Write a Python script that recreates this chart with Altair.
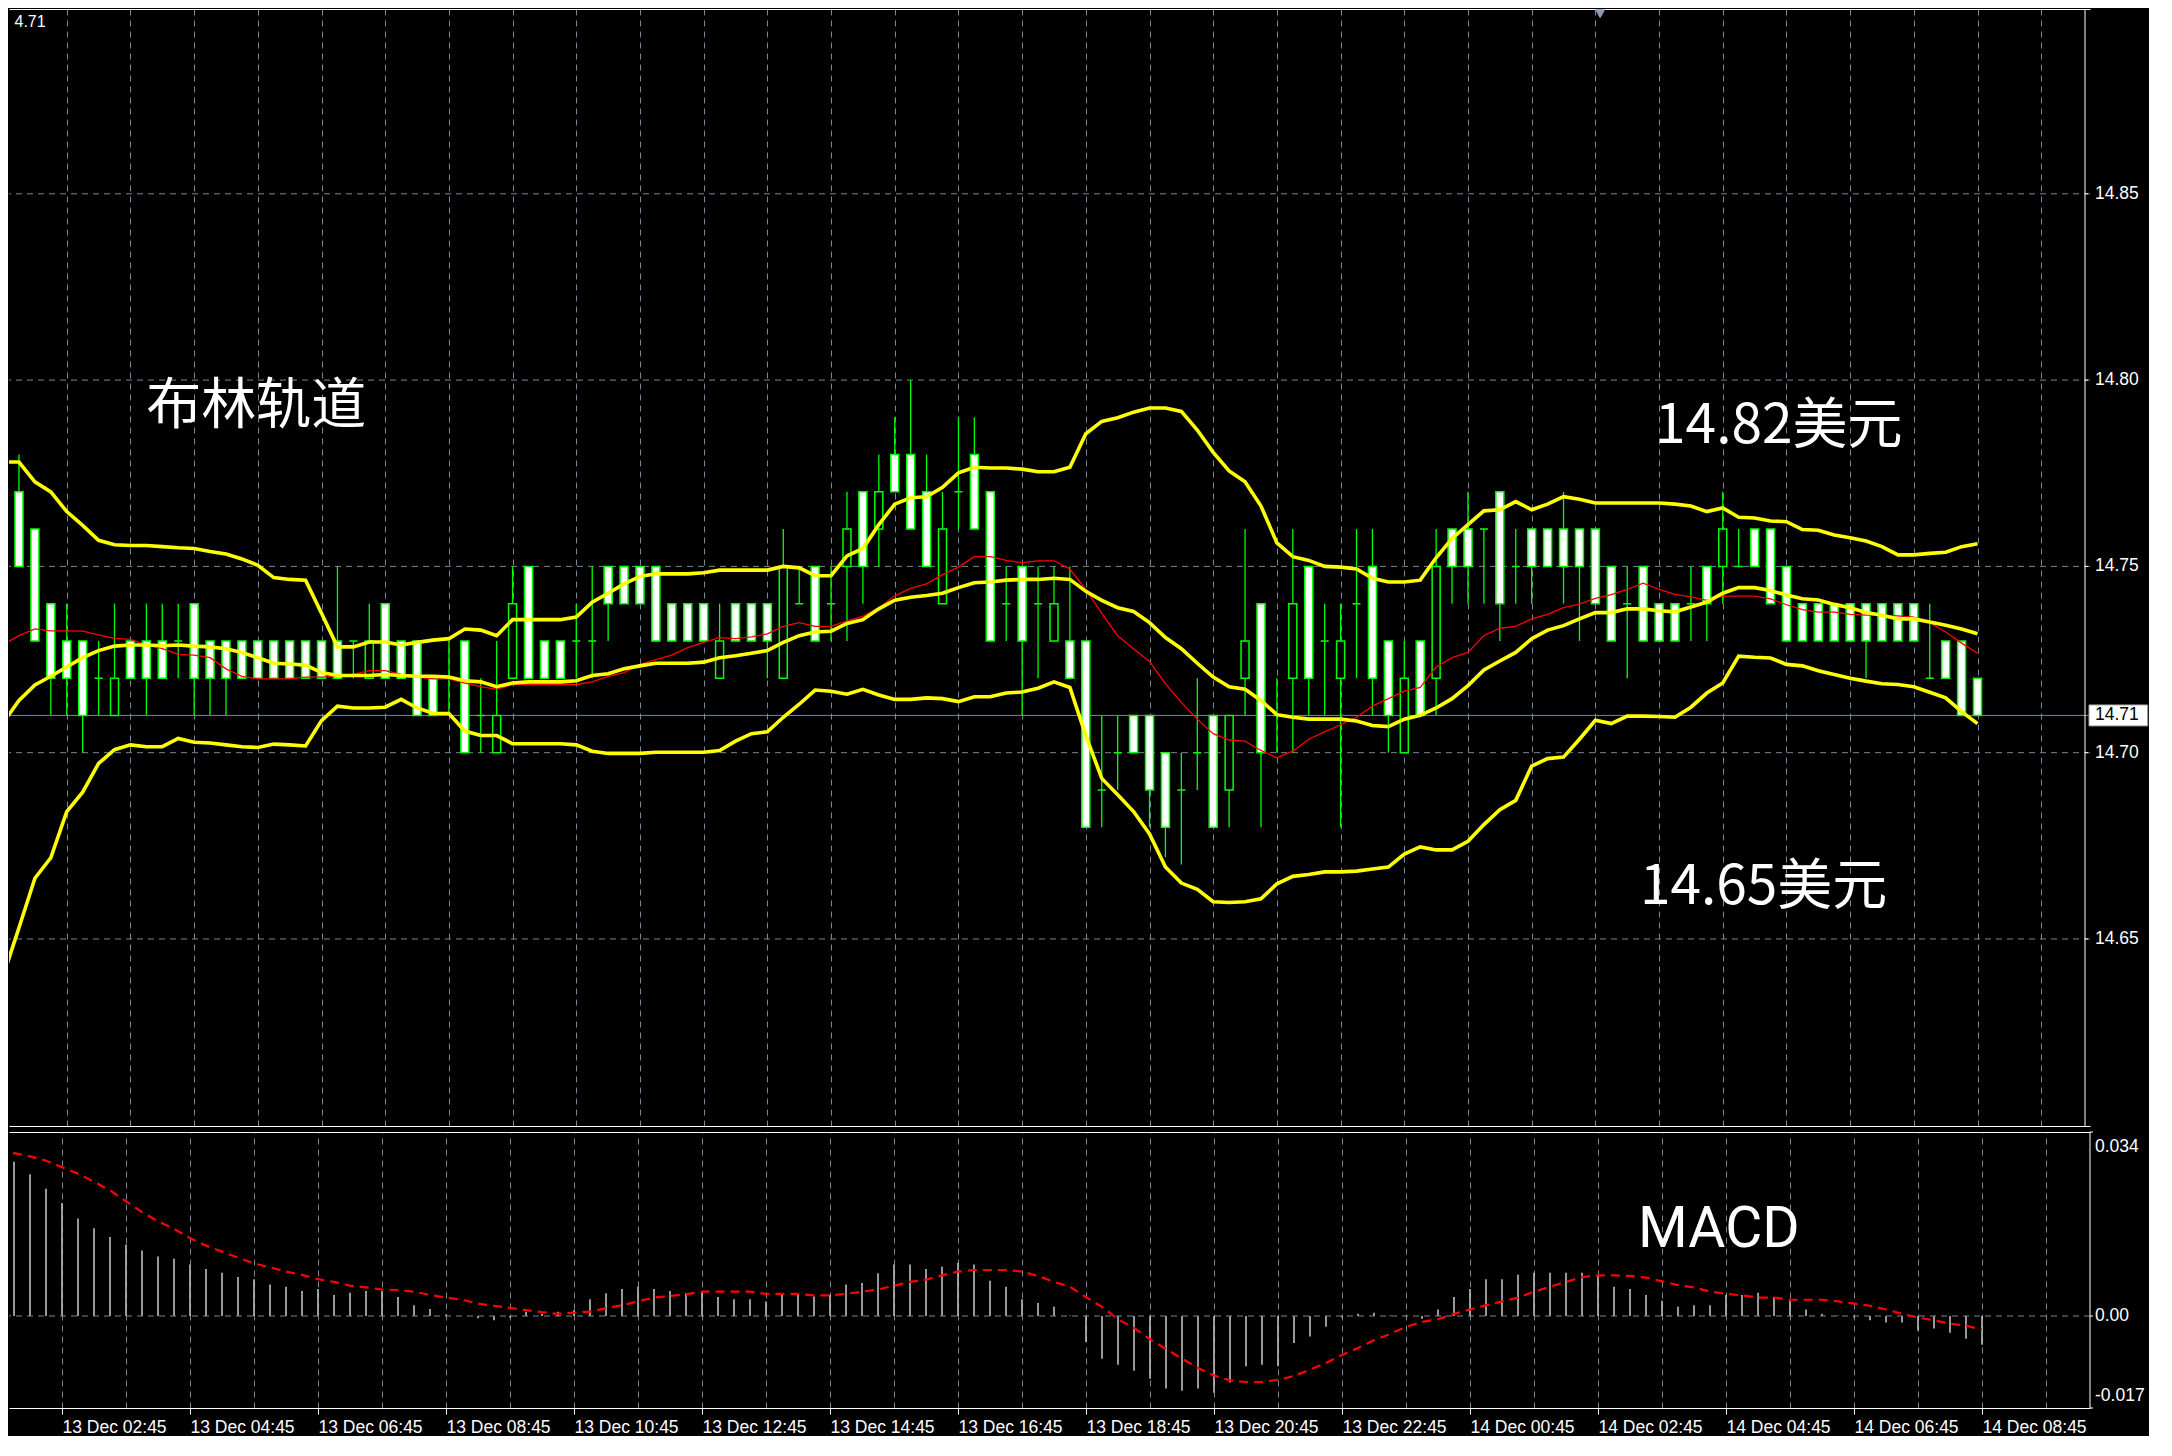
import json
import altair as alt
import pandas as pd

# ---------------- data (15-minute bars, 13 Dec 01:45 .. 14 Dec 08:45) ----------------
opens = [14.76, 14.77, 14.76, 14.74, 14.73, 14.73, 14.72, 14.71, 14.73, 14.73,
         14.73, 14.73, 14.74, 14.73, 14.73, 14.73, 14.73, 14.73, 14.73, 14.73,
         14.73, 14.73, 14.73, 14.72, 14.74, 14.73, 14.73, 14.72, 14.72, 14.73,
         14.71, 14.70, 14.72, 14.75, 14.73, 14.73, 14.73, 14.73, 14.75, 14.75,
         14.75, 14.75, 14.74, 14.74, 14.74, 14.72, 14.74, 14.74, 14.74, 14.72,
         14.74, 14.75, 14.74, 14.75, 14.77, 14.76, 14.78, 14.78, 14.77, 14.74,
         14.77, 14.78, 14.77, 14.74, 14.75, 14.74, 14.73, 14.73, 14.73, 14.69,
         14.70, 14.71, 14.71, 14.70, 14.69, 14.70, 14.71, 14.69, 14.72, 14.74,
         14.71, 14.72, 14.75, 14.73, 14.72, 14.74, 14.75, 14.73, 14.70, 14.73,
         14.72, 14.76, 14.76, 14.76, 14.77, 14.75, 14.76, 14.76, 14.76, 14.76,
         14.76, 14.75, 14.74, 14.75, 14.74, 14.74, 14.74, 14.75, 14.75, 14.75,
         14.76, 14.76, 14.75, 14.74, 14.74, 14.74, 14.74, 14.74, 14.74, 14.74,
         14.74, 14.72, 14.73, 14.73, 14.72]
highs = [14.76, 14.78, 14.76, 14.74, 14.74, 14.73, 14.73, 14.74, 14.73, 14.74,
         14.74, 14.74, 14.74, 14.73, 14.73, 14.73, 14.73, 14.73, 14.73, 14.73,
         14.73, 14.75, 14.73, 14.74, 14.74, 14.73, 14.73, 14.72, 14.73, 14.73,
         14.72, 14.73, 14.75, 14.75, 14.73, 14.73, 14.74, 14.75, 14.75, 14.75,
         14.75, 14.75, 14.74, 14.74, 14.74, 14.74, 14.74, 14.74, 14.74, 14.76,
         14.75, 14.75, 14.75, 14.77, 14.77, 14.78, 14.79, 14.80, 14.78, 14.77,
         14.79, 14.79, 14.77, 14.75, 14.75, 14.75, 14.75, 14.75, 14.73, 14.71,
         14.71, 14.71, 14.71, 14.70, 14.70, 14.72, 14.71, 14.71, 14.76, 14.74,
         14.72, 14.76, 14.75, 14.74, 14.74, 14.76, 14.76, 14.73, 14.73, 14.73,
         14.76, 14.76, 14.77, 14.76, 14.77, 14.76, 14.76, 14.76, 14.77, 14.76,
         14.76, 14.75, 14.75, 14.75, 14.74, 14.74, 14.75, 14.75, 14.77, 14.76,
         14.76, 14.76, 14.75, 14.74, 14.74, 14.74, 14.74, 14.74, 14.74, 14.74,
         14.74, 14.74, 14.73, 14.73, 14.72]
lows = [14.74, 14.75, 14.73, 14.71, 14.71, 14.70, 14.71, 14.71, 14.72, 14.71,
        14.72, 14.72, 14.71, 14.71, 14.71, 14.72, 14.72, 14.72, 14.72, 14.72,
        14.72, 14.72, 14.72, 14.72, 14.72, 14.72, 14.71, 14.71, 14.71, 14.70,
        14.70, 14.70, 14.72, 14.72, 14.72, 14.72, 14.72, 14.72, 14.73, 14.74,
        14.74, 14.73, 14.73, 14.73, 14.73, 14.72, 14.73, 14.73, 14.72, 14.72,
        14.74, 14.73, 14.73, 14.73, 14.74, 14.75, 14.77, 14.76, 14.75, 14.74,
        14.76, 14.76, 14.73, 14.73, 14.71, 14.72, 14.73, 14.72, 14.68, 14.68,
        14.69, 14.70, 14.68, 14.672, 14.67, 14.69, 14.68, 14.68, 14.71, 14.68,
        14.70, 14.70, 14.71, 14.71, 14.68, 14.72, 14.71, 14.70, 14.70, 14.71,
        14.71, 14.74, 14.74, 14.74, 14.73, 14.74, 14.74, 14.75, 14.74, 14.73,
        14.74, 14.73, 14.72, 14.73, 14.73, 14.73, 14.73, 14.73, 14.74, 14.75,
        14.75, 14.74, 14.73, 14.73, 14.73, 14.73, 14.73, 14.72, 14.73, 14.73,
        14.73, 14.72, 14.72, 14.71, 14.71]
closes = [14.74, 14.75, 14.73, 14.72, 14.72, 14.71, 14.72, 14.72, 14.72, 14.72,
          14.72, 14.73, 14.72, 14.72, 14.72, 14.72, 14.72, 14.72, 14.72, 14.72,
          14.72, 14.72, 14.73, 14.73, 14.72, 14.72, 14.71, 14.71, 14.72, 14.70,
          14.71, 14.71, 14.74, 14.72, 14.72, 14.72, 14.73, 14.73, 14.74, 14.74,
          14.74, 14.73, 14.73, 14.73, 14.73, 14.73, 14.73, 14.73, 14.73, 14.75,
          14.74, 14.73, 14.74, 14.76, 14.75, 14.77, 14.77, 14.76, 14.75, 14.76,
          14.77, 14.76, 14.73, 14.74, 14.73, 14.74, 14.74, 14.72, 14.68, 14.69,
          14.70, 14.70, 14.69, 14.68, 14.69, 14.70, 14.68, 14.71, 14.73, 14.70,
          14.71, 14.74, 14.72, 14.73, 14.73, 14.74, 14.72, 14.71, 14.72, 14.71,
          14.75, 14.75, 14.75, 14.76, 14.74, 14.75, 14.75, 14.75, 14.75, 14.75,
          14.74, 14.73, 14.74, 14.73, 14.73, 14.73, 14.74, 14.74, 14.76, 14.75,
          14.75, 14.74, 14.73, 14.73, 14.73, 14.73, 14.73, 14.73, 14.73, 14.73,
          14.73, 14.72, 14.72, 14.71, 14.71]

bb_upper = [14.778, 14.778, 14.7727, 14.770, 14.7647, 14.761, 14.757, 14.7558, 14.7556, 14.7556,
            14.7553, 14.755, 14.7548, 14.754, 14.7533, 14.752, 14.7503, 14.747, 14.7465, 14.7463,
            14.7374, 14.7284, 14.7284, 14.7297, 14.7297, 14.7289, 14.7296, 14.7302, 14.7306, 14.7332,
            14.7329, 14.7314, 14.7357, 14.7357, 14.7357, 14.7357, 14.7364, 14.7404, 14.7428, 14.7453,
            14.7473, 14.748, 14.748, 14.748, 14.7483, 14.749, 14.749, 14.749, 14.749, 14.750,
            14.7496, 14.7475, 14.7475, 14.7528, 14.7548, 14.7612, 14.7667, 14.7684, 14.7687, 14.7712,
            14.7751, 14.7766, 14.7764, 14.7764, 14.7761, 14.7754, 14.7754, 14.7766, 14.7856, 14.7889,
            14.7899, 14.7914, 14.7925, 14.7925, 14.7916, 14.7866, 14.7806, 14.7756, 14.7727, 14.7662,
            14.7563, 14.7526, 14.7516, 14.750, 14.7498, 14.7493, 14.7468, 14.7458, 14.7458, 14.7463,
            14.7523, 14.7575, 14.7612, 14.7649, 14.7652, 14.7674, 14.7652, 14.7667, 14.7687, 14.768,
            14.767, 14.767, 14.767, 14.767, 14.767, 14.7667, 14.7662, 14.7647, 14.7657, 14.7632,
            14.763, 14.7622, 14.762, 14.7599, 14.7597, 14.7584, 14.7577, 14.7568, 14.7553, 14.7531,
            14.7531, 14.7535, 14.7538, 14.7553, 14.7561]
bb_middle = [14.708, 14.714, 14.7182, 14.7205, 14.723, 14.7255, 14.7274, 14.7286, 14.7289, 14.7289,
             14.7287, 14.7289, 14.7286, 14.7284, 14.7279, 14.7269, 14.7255, 14.724, 14.7238, 14.7235,
             14.7215, 14.7207, 14.7207, 14.7207, 14.721, 14.7207, 14.7205, 14.7205, 14.7203, 14.7193,
             14.719, 14.7177, 14.7187, 14.719, 14.719, 14.719, 14.7193, 14.7207, 14.7212, 14.7225,
             14.7233, 14.724, 14.724, 14.724, 14.7243, 14.7255, 14.726, 14.7267, 14.7274, 14.7296,
             14.7314, 14.7324, 14.7326, 14.7347, 14.7357, 14.7386, 14.7409, 14.7417, 14.7422, 14.7428,
             14.7443, 14.7456, 14.7458, 14.7463, 14.7465, 14.7465, 14.7468, 14.7465, 14.7433, 14.7409,
             14.7389, 14.7379, 14.7349, 14.7309, 14.7279, 14.724, 14.7203, 14.7177, 14.717, 14.714,
             14.7102, 14.7095, 14.709, 14.709, 14.709, 14.7085, 14.7073, 14.707, 14.709, 14.710,
             14.712, 14.7145, 14.718, 14.7222, 14.7246, 14.7269, 14.7306, 14.7329, 14.7341, 14.7359,
             14.7376, 14.7376, 14.7386, 14.7386, 14.7381, 14.7378, 14.7391, 14.7404, 14.7428, 14.7443,
             14.7443, 14.7435, 14.7423, 14.7413, 14.741, 14.7398, 14.7389, 14.7376, 14.7369, 14.7359,
             14.7359, 14.7351, 14.7342, 14.7332, 14.7319]
bb_lower = [14.640, 14.653, 14.6663, 14.6718, 14.6842, 14.6894, 14.6971, 14.7008, 14.7021, 14.7016,
            14.7016, 14.7038, 14.7028, 14.7026, 14.7021, 14.7016, 14.7014, 14.7023, 14.7021, 14.7018,
            14.7086, 14.7125, 14.712, 14.712, 14.7122, 14.7143, 14.712, 14.7106, 14.7105, 14.7058,
            14.7046, 14.7046, 14.7024, 14.7024, 14.7024, 14.7024, 14.7021, 14.7004, 14.6998, 14.6998,
            14.6998, 14.7001, 14.7001, 14.7001, 14.7001, 14.7006, 14.7031, 14.7051, 14.7056, 14.7095,
            14.713, 14.7168, 14.7165, 14.7157, 14.717, 14.7155, 14.7143, 14.7143, 14.7147, 14.7145,
            14.7137, 14.715, 14.715, 14.716, 14.7163, 14.7173, 14.719, 14.7175, 14.7046, 14.6931,
            14.6887, 14.6842, 14.6782, 14.6693, 14.665, 14.6633, 14.660, 14.6598, 14.660, 14.6608,
            14.6648, 14.6668, 14.6673, 14.668, 14.668, 14.6682, 14.6688, 14.6693, 14.6728, 14.6747,
            14.6739, 14.6739, 14.6762, 14.6807, 14.6847, 14.6872, 14.6964, 14.6984, 14.6988, 14.7036,
            14.7087, 14.7078, 14.7098, 14.7098, 14.7097, 14.7095, 14.7122, 14.716, 14.7187, 14.7259,
            14.7256, 14.7254, 14.7237, 14.7233, 14.722, 14.721, 14.720, 14.7192, 14.7185, 14.7183,
            14.7177, 14.7162, 14.7147, 14.711, 14.7078]
ma_red = [14.729, 14.7314, 14.7332, 14.7327, 14.7327, 14.7326, 14.7316, 14.7307, 14.7304, 14.7289,
          14.7279, 14.7264, 14.7262, 14.7255, 14.7225, 14.7205, 14.7198, 14.7198, 14.7198, 14.7203,
          14.7203, 14.7205, 14.721, 14.722, 14.722, 14.721, 14.7203, 14.7198, 14.7198, 14.7187,
          14.7177, 14.717, 14.7183, 14.7183, 14.7183, 14.7183, 14.7183, 14.719, 14.7205, 14.7215,
          14.7237, 14.725, 14.7262, 14.7282, 14.7296, 14.7309, 14.7306, 14.7311, 14.7319, 14.7339,
          14.7349, 14.7339, 14.7339, 14.7354, 14.7366, 14.7389, 14.7421, 14.7441, 14.7453, 14.7478,
          14.7498, 14.7526, 14.7526, 14.7516, 14.751, 14.7515, 14.7515, 14.7493, 14.7438, 14.7374,
          14.7314, 14.7279, 14.7245, 14.7185, 14.7135, 14.709, 14.7051, 14.7034, 14.7031, 14.7006,
          14.6986, 14.7004, 14.7036, 14.7056, 14.7075, 14.7095, 14.7125, 14.7145, 14.7165, 14.7175,
          14.723, 14.7255, 14.7269, 14.7314, 14.7334, 14.7339, 14.7359, 14.7371, 14.7389, 14.7399,
          14.7414, 14.7424, 14.7438, 14.7455, 14.7438, 14.7425, 14.7418, 14.7409, 14.742, 14.742,
          14.742, 14.7413, 14.7397, 14.7384, 14.7377, 14.7377, 14.7371, 14.7369, 14.7369, 14.7367,
          14.7364, 14.7349, 14.7324, 14.7294, 14.7267]

macd_hist = [0.0305, 0.0285, 0.0262, 0.0235, 0.0209, 0.0180, 0.0162, 0.0146, 0.0132, 0.0121,
             0.0110, 0.0106, 0.0095, 0.0087, 0.0080, 0.0072, 0.0068, 0.0058, 0.0054, 0.0046,
             0.0050, 0.0039, 0.0043, 0.0046, 0.0046, 0.0035, 0.0020, 0.0013, 0.0003, 0.0000,
             -0.0004, -0.0008, -0.0003, 0.0008, 0.0004, 0.0008, 0.0011, 0.0031, 0.0042, 0.0050,
             0.0054, 0.0050, 0.0046, 0.0042, 0.0046, 0.0035, 0.0031, 0.0031, 0.0027, 0.0040,
             0.0040, 0.0036, 0.0039, 0.0058, 0.0061, 0.0079, 0.0095, 0.0095, 0.0087, 0.0091,
             0.0098, 0.0095, 0.0065, 0.0054, 0.0031, 0.0024, 0.0017, 0.0001, -0.0048, -0.0079,
             -0.0090, -0.0101, -0.0116, -0.0134, -0.0138, -0.0134, -0.0142, -0.0123, -0.0093, -0.0090,
             -0.0093, -0.0050, -0.0038, -0.0020, -0.0003, 0.0004, 0.0006, 0.0001, 0.0001, -0.0005,
             0.0012, 0.0035, 0.0050, 0.0068, 0.0068, 0.0076, 0.0080, 0.0080, 0.0080, 0.0080,
             0.0076, 0.0054, 0.0050, 0.0039, 0.0028, 0.0017, 0.0020, 0.0020, 0.0039, 0.0039,
             0.0043, 0.0035, 0.0028, 0.0012, 0.0004, 0.0001, -0.0003, -0.0008, -0.0012, -0.0012,
             -0.0027, -0.0023, -0.0031, -0.0042, -0.0053]
macd_signal = [0.0301, 0.0301, 0.0295, 0.0287, 0.0275, 0.0263, 0.0248, 0.0232, 0.0212, 0.0192,
               0.0175, 0.0161, 0.0144, 0.0130, 0.0119, 0.0108, 0.0097, 0.0090, 0.0082, 0.0076,
               0.0068, 0.0063, 0.0056, 0.0053, 0.0049, 0.0048, 0.0045, 0.0039, 0.0034, 0.0030,
               0.0023, 0.0019, 0.0015, 0.0011, 0.0007, 0.0004, 0.0006, 0.0008, 0.0014, 0.0020,
               0.0027, 0.0034, 0.0037, 0.0040, 0.0045, 0.0045, 0.0045, 0.0045, 0.0041, 0.0041,
               0.0041, 0.0038, 0.0038, 0.0041, 0.0045, 0.0049, 0.0056, 0.0063, 0.0067, 0.0075,
               0.0082, 0.0085, 0.0085, 0.0085, 0.0082, 0.0074, 0.0063, 0.0054, 0.0035, 0.0017,
               -0.0006, -0.0022, -0.0043, -0.0061, -0.0079, -0.0096, -0.0110, -0.0119, -0.0122, -0.0122,
               -0.0118, -0.0111, -0.0099, -0.0087, -0.0072, -0.0059, -0.0045, -0.0033, -0.0020, -0.0011,
               -0.0006, 0.0004, 0.0012, 0.0020, 0.0027, 0.0034, 0.0045, 0.0054, 0.0063, 0.0072,
               0.0075, 0.0075, 0.0074, 0.0071, 0.0064, 0.0057, 0.0053, 0.0045, 0.0041, 0.0038,
               0.0034, 0.0034, 0.0030, 0.0030, 0.0030, 0.0027, 0.0023, 0.0019, 0.0012, 0.0004,
               -0.0003, -0.0008, -0.0014, -0.0018, -0.0025]

time_labels = ["13 Dec 02:45", "13 Dec 04:45", "13 Dec 06:45", "13 Dec 08:45",
               "13 Dec 10:45", "13 Dec 12:45", "13 Dec 14:45", "13 Dec 16:45",
               "13 Dec 18:45", "13 Dec 20:45", "13 Dec 22:45", "14 Dec 00:45",
               "14 Dec 02:45", "14 Dec 04:45", "14 Dec 06:45", "14 Dec 08:45"]
label_bars = [4, 12, 20, 28, 36, 44, 52, 60, 68, 76, 84, 92, 100, 108, 116, 124]
grid_bars = list(range(4, 131, 4))
price_ticks = [14.65, 14.70, 14.75, 14.80, 14.85]
price_tick_labels = ["14.65", "14.70", "14.75", "14.80", "14.85"]
macd_ticks = [-0.017, 0.0, 0.034]
macd_tick_labels = ["-0.017", "0.00", "0.034"]
macd_zero = [0.0]
current_price = [14.71]
current_price_text = ["14.71"]

ann_text = ["布林轨道", "14.82美元", "14.65美元"]
ann_bar = [9.0, 103.75, 102.8]
ann_price = [14.7886, 14.7830, 14.6595]
macd_text = ["MACD"]
macd_text_bar = [102.5]
macd_text_value = [0.0127]
header_text = ["4.71"]
header_bar = [0.72]
header_price = [14.8961]
marker_bar = [100.3]
marker_price = [14.8983]

# ---------------- styles / layout ----------------
GRID = "#778899"
LIME = "#00ff00"
YELLOW = "#ffff00"
RED = "#ff0000"
WHITE = "#ffffff"
AX_FONT = "Liberation Sans"
AX_SIZE = 17.5
DASH = [6, 5]
PLOT_W = 2081
MAIN_H = 1117
MACD_H = 276

x_domain = [0.6875, 130.75]
PX = PLOT_W / (x_domain[1] - x_domain[0])      # pixels per bar
EDGE = x_domain[1]                               # right border of the panels (in bar units)

n = len(opens)
df = pd.DataFrame({
    "k": list(range(n)), "open": opens, "high": highs, "low": lows, "close": closes,
    "upper": bb_upper, "middle": bb_middle, "lower": bb_lower, "ma": ma_red,
    "hist": macd_hist, "signal": macd_signal,
})

x_scale = alt.Scale(domain=x_domain, nice=False, zero=False)
y_main = alt.Scale(domain=[14.5998, 14.8996], nice=False, zero=False)
y_macd = alt.Scale(domain=[-0.017, 0.034], nice=False, zero=False)


def xk(axis=None, field="k:Q"):
    return alt.X(field, scale=x_scale, axis=axis)


def ym(field):
    return alt.Y(field, scale=y_main, axis=None)


def yd(field):
    return alt.Y(field, scale=y_macd, axis=None)


# ---------------- x axes (borders + vertical grid + time labels) ----------------
main_bottom_axis = alt.Axis(orient="bottom", values=grid_bars, labels=False, ticks=False, title=None,
                            domainColor=WHITE, domainWidth=1, grid=True, gridColor=GRID,
                            gridDash=DASH, gridWidth=1)
main_top_axis = alt.Axis(orient="top", labels=False, ticks=False, grid=False, title=None,
                         domainColor=WHITE, domainWidth=1)
label_expr = f"{json.dumps(time_labels)}[(datum.value - {label_bars[0]}) / {label_bars[1] - label_bars[0]}]"
macd_bottom_axis = alt.Axis(orient="bottom", values=label_bars, labelExpr=label_expr, title=None,
                            labelAlign="left", labelBaseline="top", labelColor=WHITE,
                            labelFont=AX_FONT, labelFontSize=AX_SIZE, labelPadding=4,
                            labelFlush=False, labelOverlap=False, labelBound=False,
                            tickColor=WHITE, tickSize=6, tickWidth=1,
                            domainColor=WHITE, domainWidth=1, grid=False)
macd_top_axis = alt.Axis(orient="top", values=grid_bars, labels=False, ticks=False, title=None,
                         domainColor=WHITE, domainWidth=1, grid=True, gridColor=GRID,
                         gridDash=DASH, gridWidth=1)

# ---------------- main price panel ----------------
ptick_df = pd.DataFrame({"p": price_ticks, "t": price_tick_labels})
grid_h = alt.Chart(ptick_df).mark_rule(color=GRID, strokeDash=DASH, strokeWidth=1).encode(y=ym("p:Q"))

bid_line = alt.Chart(pd.DataFrame({"p": current_price})).mark_rule(
    color=GRID, strokeWidth=1).encode(y=ym("p:Q"))

wicks = alt.Chart(df).mark_rule(color=LIME, strokeWidth=1.3, clip=True).encode(
    x=xk(main_bottom_axis), y=ym("low:Q"), y2="high:Q")

bodies = alt.Chart(df).transform_calculate(
    body="datum.open > datum.close ? '#ffffff' : '#000000'"
).mark_bar(size=8, stroke=LIME, strokeWidth=1.5, clip=True).encode(
    x=xk(), y=ym("open:Q"), y2="close:Q", fill=alt.Fill("body:N", scale=None))

ma_line = alt.Chart(df).mark_line(color=RED, strokeWidth=1.3, clip=True).encode(
    x=xk(), y=ym("ma:Q"))

bands = alt.Chart(df).transform_fold(
    ["upper", "middle", "lower"], as_=["band", "value"]
).mark_line(color=YELLOW, strokeWidth=3.6, clip=True).encode(
    x=xk(main_top_axis), y=ym("value:Q"), detail="band:N")

annotations = alt.Chart(pd.DataFrame({"t": ann_text, "k": ann_bar, "p": ann_price})).mark_text(
    align="left", baseline="alphabetic", font="Noto Sans CJK SC", fontSize=55, color=WHITE
).encode(x=xk(), y=ym("p:Q"), text="t:N")

header = alt.Chart(pd.DataFrame({"t": header_text, "k": header_bar, "p": header_price})).mark_text(
    align="left", baseline="middle", font=AX_FONT, fontSize=16, color=WHITE
).encode(x=xk(), y=ym("p:Q"), text="t:N")

marker = alt.Chart(pd.DataFrame({"k": marker_bar, "p": marker_price})).mark_point(
    shape="triangle-down", filled=True, size=110, color="#8c9cac", opacity=1, clip=True
).encode(x=xk(), y=ym("p:Q"))

# right-hand price scale: border, ticks, labels
border_main = alt.Chart(pd.DataFrame({"k": [EDGE]})).mark_rule(color=WHITE, strokeWidth=1).encode(x=xk())
ticks_main = alt.Chart(ptick_df).transform_calculate(
    k1=f"{EDGE}", k2=f"{EDGE + 3 / PX}"
).mark_rule(color=WHITE, strokeWidth=1).encode(x=xk(field="k1:Q"), x2="k2:Q", y=ym("p:Q"))
labels_main = alt.Chart(ptick_df).transform_calculate(k=f"{EDGE + 10 / PX}").mark_text(
    align="left", baseline="middle", font=AX_FONT, fontSize=AX_SIZE, color=WHITE
).encode(x=xk(), y=ym("p:Q"), text="t:N")

price_box = alt.Chart(pd.DataFrame({"p": current_price})).transform_calculate(
    k1=f"{EDGE + 4 / PX}", k2=f"{EDGE + 63 / PX}"
).mark_rect(fill=WHITE, stroke="#9a9a9a", strokeWidth=1, height=21).encode(
    x=xk(field="k1:Q"), x2="k2:Q", y=ym("p:Q"))
price_text = alt.Chart(pd.DataFrame({"t": current_price_text, "p": current_price})).transform_calculate(
    k=f"{EDGE + 10 / PX}"
).mark_text(align="left", baseline="middle", font=AX_FONT, fontSize=AX_SIZE, color="#000000").encode(
    x=xk(), y=ym("p:Q"), text="t:N")

main = alt.layer(
    grid_h, wicks, bid_line, bodies, ma_line, bands, annotations, header, marker,
    border_main, ticks_main, labels_main, price_box, price_text
).resolve_axis(x="independent").properties(width=PLOT_W, height=MAIN_H)

# ---------------- MACD panel ----------------
mtick_df = pd.DataFrame({"v": macd_ticks, "t": macd_tick_labels})

zero_line = alt.Chart(pd.DataFrame({"v": macd_zero})).mark_rule(
    color=GRID, strokeDash=DASH, strokeWidth=1).encode(y=yd("v:Q"))

hist = alt.Chart(df).transform_calculate(base="0").mark_rule(
    color="#c0c0c0", strokeWidth=1.6, clip=True).encode(
    x=xk(macd_bottom_axis), y=yd("base:Q"), y2="hist:Q")

signal = alt.Chart(df).mark_line(color=RED, strokeWidth=2.2, strokeDash=[9, 6], clip=True).encode(
    x=xk(macd_top_axis), y=yd("signal:Q"))

macd_title = alt.Chart(pd.DataFrame({"t": macd_text, "k": macd_text_bar, "v": macd_text_value})).mark_text(
    align="left", baseline="alphabetic", font="Roboto", fontSize=57, color=WHITE
).encode(x=xk(), y=yd("v:Q"), text="t:N")

border_macd = alt.Chart(pd.DataFrame({"k": [EDGE]})).mark_rule(color=WHITE, strokeWidth=1).encode(x=xk())
ticks_macd = alt.Chart(mtick_df).transform_calculate(
    k1=f"{EDGE}", k2=f"{EDGE + 3 / PX}"
).mark_rule(color=WHITE, strokeWidth=1).encode(x=xk(field="k1:Q"), x2="k2:Q", y=yd("v:Q"))


def macd_label(filter_expr, baseline, dy):
    return alt.Chart(mtick_df).transform_filter(filter_expr).transform_calculate(
        k=f"{EDGE + 5 / PX}"
    ).mark_text(align="left", baseline=baseline, dy=dy, font=AX_FONT, fontSize=AX_SIZE,
                color=WHITE).encode(x=xk(), y=yd("v:Q"), text="t:N")


labels_macd = [
    macd_label("datum.v > 0", "top", 6),
    macd_label("datum.v == 0", "middle", 0),
    macd_label("datum.v < 0", "bottom", -3),
]

macd = alt.layer(hist, zero_line, signal, macd_title, border_macd, ticks_macd, *labels_macd).resolve_axis(
    x="independent").properties(width=PLOT_W, height=MACD_H)

chart = alt.vconcat(main, macd, spacing=4).properties(
    padding=0, background="#000000").configure_view(stroke="transparent")

chart.save("out.html", embed_options={"renderer": "svg", "actions": False})
